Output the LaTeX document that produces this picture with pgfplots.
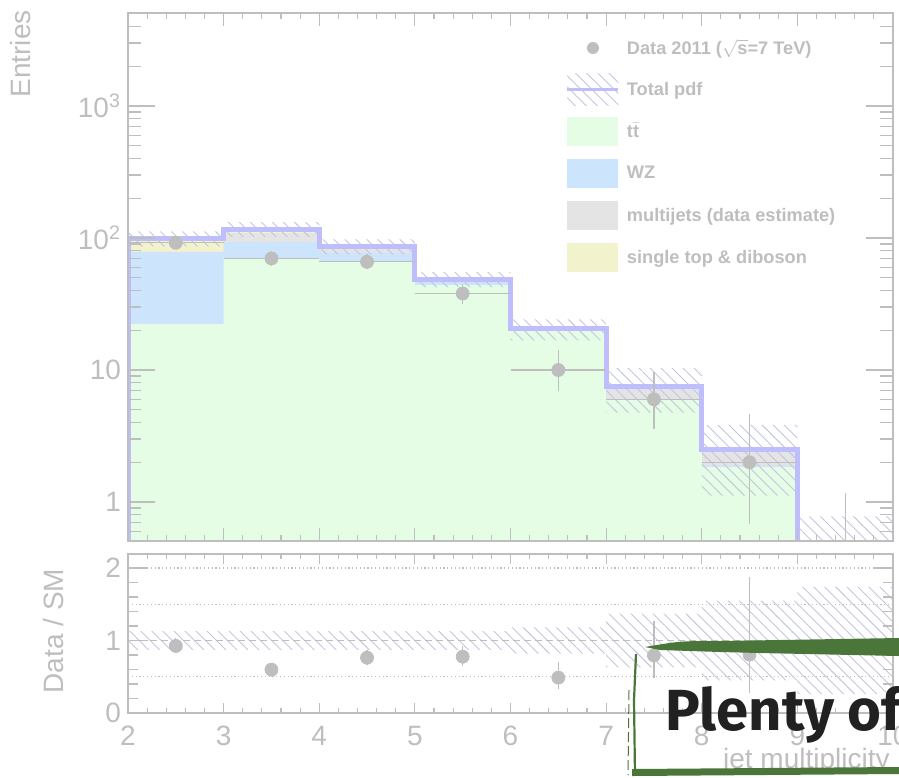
\documentclass[border=0pt]{standalone}
\usepackage{fontspec}
\setmainfont{Liberation Sans}
\newfontfamily\plentyfont{Fira Sans}
\usepackage{pgfplots}
\pgfplotsset{compat=1.18}
\usepackage{pgfplotstable}
\usetikzlibrary{patterns.meta}

\definecolor{axisgray}{RGB}{190,190,190}
\definecolor{datagray}{RGB}{190,190,190}
\definecolor{ttgreen}{RGB}{228,253,228}
\definecolor{wzblue}{RGB}{204,228,252}
\definecolor{mjgray}{RGB}{228,228,228}
\definecolor{styellow}{RGB}{242,242,204}
\definecolor{totline}{RGB}{190,190,252}
\definecolor{hatchcol}{RGB}{196,196,226}
\definecolor{brushgreen}{RGB}{74,118,58}

% data points (top panel), asymmetric Poisson errors
\pgfplotstableread{
x   y   ep    em
2.5 92  10.63 9.58
3.5 70  9.41  8.35
4.5 66  9.17  8.11
5.5 38  7.22  6.14
6.5 10  4.28  3.12
7.5 6   3.60  2.40
8.5 2   2.66  1.32
}\datatop

% ratio data / SM
\pgfplotstableread{
x   y     ep    em
2.5 0.925 0.107 0.096
3.5 0.598 0.080 0.071
4.5 0.763 0.106 0.094
5.5 0.777 0.148 0.126
6.5 0.488 0.209 0.152
7.5 0.794 0.476 0.317
8.5 0.806 1.073 0.532
}\dataratio

\tikzset{hatchband/.style={draw=none, pattern={Lines[angle=-45,distance=3.9pt,line width=0.45pt]}, pattern color=hatchcol}}

\pgfplotsset{
  rootaxis/.style={
    scale only axis, width=382.5pt,
    xmin=2, xmax=10,
    axis line style={axisgray, line width=0.8pt},
    tick style={axisgray, line width=0.6pt},
    tick align=inside,
    xtick pos=both, ytick pos=both,
    tick label style={font=\fontsize{14}{16}\selectfont, text=axisgray},
    /pgf/number format/assume math mode=true,
    axis on top,
  }
}

\begin{document}
\begin{tikzpicture}
\path[use as bounding box] (0,0) rectangle (449.5pt,-388.5pt);

% ---------------- top panel ----------------
\begin{axis}[rootaxis, name=top, at={(64pt,-6.5pt)}, anchor=north west,
  height=264pt, ymode=log, ymin=0.5065, ymax=5064,
  xtick={2,...,10}, minor x tick num=4, xticklabels={},
  ytick={1,10,100,1000}, yticklabels={1,10,10\textsuperscript{2},10\textsuperscript{3}},
  minor ytick={0.6,0.7,0.8,0.9,2,3,4,5,6,7,8,9,20,30,40,50,60,70,80,90,200,300,400,500,600,700,800,900,2000,3000,4000,5000},
  xtick style={/pgfplots/major tick length=6.5pt,/pgfplots/minor tick length=3pt},
  ytick style={/pgfplots/major tick length=13.5pt,/pgfplots/minor tick length=6.5pt},
  legend style={at={(0.5725,0.9612)}, anchor=north west, draw=none, fill=none,
    inner sep=0pt, outer sep=0pt, row sep=6.5pt, column sep=1.5pt,
    font=\fontsize{9.1}{11}\selectfont\bfseries, text=axisgray},
  legend cell align=left,
]
% stacked components (cumulative)
\addplot[forget plot, const plot, fill=styellow, draw=none] coordinates {(2,0.1) (2,99.5) (3,117) (4,86.5) (5,48.9) (6,20.5) (7,7.56) (8,2.48) (9,0.45) (10,0.45) (10,0.1)};
\addplot[forget plot, const plot, fill=mjgray, draw=none] coordinates {(2,0.1) (2,78.8) (3,109) (4,85.5) (5,48.7) (6,20.4) (7,7.35) (8,2.44) (9,0.45) (10,0.45) (10,0.1)};
\addplot[forget plot, const plot, fill=wzblue, draw=none] coordinates {(2,0.1) (2,78.3) (3,93) (4,77.1) (5,48.5) (6,20.3) (7,6.05) (8,1.89) (9,0.45) (10,0.45) (10,0.1)};
\addplot[forget plot, const plot, fill=ttgreen, draw=none] coordinates {(2,0.1) (2,22.3) (3,70.5) (4,65.8) (5,44.0) (6,20.0) (7,6.0) (8,1.84) (9,0.45) (10,0.45) (10,0.1)};
% uncertainty band
\addplot[forget plot, const plot, hatchband] coordinates {(2,112.4) (3,132.2) (4,97.7) (5,55.3) (6,24.2) (7,10.36) (8,3.84) (9,0.78) (10,0.78)
  (10,0.117) (9,1.12) (8,4.76) (7,16.8) (6,42.5) (5,75.3) (4,101.8) (3,86.6) (2,86.6)};
% total pdf
\addplot[forget plot, const plot, totline, line width=2.5pt] coordinates {(2,0.1) (2,99.5) (3,117) (4,86.5) (5,48.9) (6,20.5) (7,7.56) (8,2.48) (9,0.45) (10,0.45)};
% data
\addplot[forget plot, only marks, mark=*, mark size=3.25pt, datagray, mark options={draw=none, fill=datagray},
  error bars/.cd, x dir=both, x fixed=0.5, y dir=both, y explicit, error mark=none,
  error bar style={line width=0.6pt, datagray}]
  table[x=x, y=y, y error plus=ep, y error minus=em] {\datatop};
\addplot[forget plot, datagray, line width=0.6pt] coordinates {(9.5,0.3) (9.5,1.17)};

% legend
\addlegendimage{draw=none, legend image code/.code={\path[draw=none] (0pt,-7.25pt) rectangle (25.5pt,7.25pt); \fill[datagray, draw=none] (12.75pt,0pt) circle (3pt);}}
\addlegendentry{Data 2011 (\(\sqrt{\mbox{s}}\)=7 TeV)}
\addlegendimage{draw=none, legend image code/.code={\path[draw=none] (0pt,-7.25pt) rectangle (25.5pt,7.25pt); \fill[overlay, hatchband] (0pt,-8pt) rectangle (25.5pt,8pt); \draw[totline, line width=1.5pt] (0pt,0pt) -- (25.5pt,0pt);}}
\addlegendentry{Total pdf}
\addlegendimage{draw=none, legend image code/.code={\fill[ttgreen, draw=none] (0pt,-7.25pt) rectangle (25.5pt,7.25pt);}}
\addlegendentry{t\(\bar{\mbox{t}}\)}
\addlegendimage{draw=none, legend image code/.code={\fill[wzblue, draw=none] (0pt,-7.25pt) rectangle (25.5pt,7.25pt);}}
\addlegendentry{WZ}
\addlegendimage{draw=none, legend image code/.code={\fill[mjgray, draw=none] (0pt,-7.25pt) rectangle (25.5pt,7.25pt);}}
\addlegendentry{multijets (data estimate)}
\addlegendimage{draw=none, legend image code/.code={\fill[styellow, draw=none] (0pt,-7.25pt) rectangle (25.5pt,7.25pt);}}
\addlegendentry{single top \& diboson}
\end{axis}

% ---------------- ratio panel ----------------
\begin{axis}[rootaxis, name=bot, at={(64pt,-277pt)}, anchor=north west, height=79.5pt,
  ymin=0, ymax=2.193, ytick={0,1,2}, minor y tick num=4,
  xtick={2,...,10}, minor x tick num=4,
  xtick style={/pgfplots/major tick length=5pt,/pgfplots/minor tick length=2.5pt},
  ytick style={/pgfplots/major tick length=10pt,/pgfplots/minor tick length=5pt},
  xticklabel style={yshift=-3pt},
]
\addplot[forget plot, axisgray, line width=0.6pt, dash pattern=on 0.6pt off 1.3pt] coordinates {(2,0.5) (10,0.5)};
\addplot[forget plot, axisgray, line width=0.6pt, dash pattern=on 0.6pt off 1.3pt] coordinates {(2,1.5) (10,1.5)};
\addplot[forget plot, axisgray, line width=0.6pt, dash pattern=on 0.6pt off 1.3pt] coordinates {(2,2) (10,2)};
\addplot[forget plot, const plot, hatchband] coordinates {(2,1.13) (3,1.13) (4,1.13) (5,1.13) (6,1.18) (7,1.37) (8,1.55) (9,1.74) (10,1.74)
  (10,0.26) (9,0.45) (8,0.63) (7,0.82) (6,0.87) (5,0.87) (4,0.87) (3,0.87) (2,0.87)};
\addplot[forget plot, axisgray, line width=0.6pt, dash pattern=on 3.5pt off 2pt] coordinates {(2,1) (10,1)};
\addplot[forget plot, only marks, mark=*, mark size=3.25pt, datagray, mark options={draw=none, fill=datagray},
  error bars/.cd, y dir=both, y explicit, error mark=none,
  error bar style={line width=0.6pt, datagray}]
  table[x=x, y=y, y error plus=ep, y error minus=em] {\dataratio};
\end{axis}

% ---------------- axis titles and overlay (px coordinates) ----------------
\begin{scope}[x=0.5pt, y=-0.5pt]
\node[rotate=90, anchor=base east, inner sep=0pt, text=axisgray, font=\fontsize{14}{16}\selectfont] at (30,10) {Entries};
\node[rotate=90, anchor=base, inner sep=0pt, text=axisgray, font=\fontsize{14}{16}\selectfont] at (63,631) {Data / SM};
\node[anchor=base east, inner sep=0pt, text=axisgray, font=\fontsize{14}{16}\selectfont] at (890,768) {jet multiplicity};
% overlay
\fill[brushgreen] (645,647) .. controls (680,641) .. (720,641) -- (899,638) -- (899,656) -- (760,653) -- (720,652) .. controls (690,651) .. (660,650) -- cycle;
\draw[brushgreen, line width=1.1pt] (636,654) -- (634,700) -- (635,775);
\draw[brushgreen, line width=0.5pt, dash pattern=on 5pt off 2pt] (629,690) -- (628,775);
\fill[brushgreen] (632,769) -- (899,767) -- (899,774) -- (632,776) -- cycle;
\node[anchor=base west, inner sep=0pt, text=black!87] at (665,730) {\plentyfont\bfseries\fontsize{29}{30}\selectfont Plenty of};
\end{scope}
\end{tikzpicture}
\end{document}
